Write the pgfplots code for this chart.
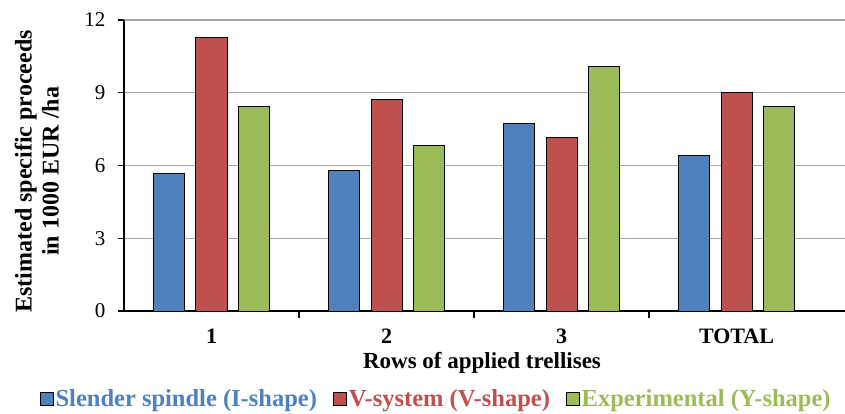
\documentclass[border=0pt]{standalone}
\usepackage{pgfplots}
\pgfplotsset{compat=1.18}
\usepackage{fontspec}
\setmainfont{Liberation Serif}
\definecolor{cblue}{HTML}{4F81BD}
\definecolor{cred}{HTML}{C0504D}
\definecolor{cgreen}{HTML}{9BBB59}
\pgfplotsset{mylegend/.style={legend image code/.code={\draw[##1,draw=black,line width=0.8pt] (0pt,-6.5pt) rectangle (13pt,6.5pt);}}}
\begin{document}
\begin{tikzpicture}
\useasboundingbox (-124pt,-103pt) rectangle (721pt,311pt);
\begin{axis}[
 at={(0pt,0pt)}, anchor=south west,
 width=721pt, height=291pt, scale only axis,
 xmin=-0.5, xmax=3.62, ymin=0, ymax=12,
 ytick={0,3,6,9,12},
 xtick={0,1,2,3}, xticklabels={1,2,3,TOTAL},
 minor xtick={0.5,1.5,2.5},
 axis x line*=bottom, axis y line*=left,
 axis line style={black, line width=1.3pt, -},
 major x tick style={draw=none},
 minor x tick style={black, line width=1.2pt},
 minor tick length=7pt,
 y tick style={black, line width=1.2pt},
 major tick length=6pt,
 tick align=outside,
 ymajorgrids, major grid style={gray!70, line width=1.1pt},
 /pgf/number format/assume math mode=true,
 yticklabel style={font=\fontsize{21}{24}\selectfont, xshift=-9pt},
 xticklabel style={font=\fontsize{22}{24}\selectfont\bfseries, yshift=-8pt},
 ylabel={Estimated specific proceeds\\in 1000 EUR /ha},
 ylabel style={align=center, font=\fontsize{24}{27}\selectfont\bfseries, at={(axis description cs:-0.121,0.48)}, anchor=center},
 xlabel={Rows of applied trellises},
 xlabel style={font=\fontsize{23}{26}\selectfont\bfseries, at={(axis description cs:0.4965,-0.178)}, anchor=center},
 legend style={at={(axis description cs:0.433,-0.302)}, anchor=center, draw=none, fill=none, legend columns=3,
   font=\fontsize{24.5}{27}\selectfont\bfseries, inner ysep=0pt,
   /tikz/every even column/.append style={column sep=14pt}},
 bar width=31pt,
]
\addplot[ybar, bar shift=-42.5pt, fill=cblue, draw=black, line width=1pt, mylegend] coordinates {(0,5.65) (1,5.81) (2,7.74) (3,6.41)};
\addlegendentry{\textcolor{cblue}{Slender spindle (I-shape)}}
\addplot[ybar, bar shift=0pt, fill=cred, draw=black, line width=1pt, mylegend] coordinates {(0,11.26) (1,8.73) (2,7.15) (3,9.03)};
\addlegendentry{\textcolor{cred}{V-system (V-shape)}}
\addplot[ybar, bar shift=42.5pt, fill=cgreen, draw=black, line width=1pt, mylegend] coordinates {(0,8.45) (1,6.83) (2,10.09) (3,8.45)};
\addlegendentry{\textcolor{cgreen}{Experimental (Y-shape)}}
\end{axis}
\end{tikzpicture}
\end{document}
